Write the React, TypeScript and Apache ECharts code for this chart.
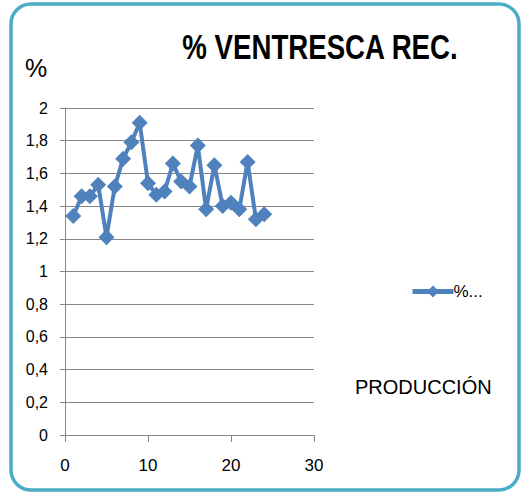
import React, { useEffect, useRef } from "react";
import * as echarts from "echarts";

// Production number (x) and % ventresca recovered (y)
const produccion = [1, 2, 3, 4, 5, 6, 7, 8, 9, 10, 11, 12, 13, 14, 15, 16, 17, 18, 19, 20, 21, 22, 23, 24];
const ventresca = [1.34, 1.46, 1.46, 1.53, 1.21, 1.52, 1.69, 1.79, 1.91, 1.54, 1.47, 1.49, 1.66, 1.55, 1.52, 1.77, 1.38, 1.65, 1.4, 1.42, 1.38, 1.67, 1.32, 1.35];

const titleText = "% VENTRESCA REC.";
const yAxisName = "%";
const xAxisName = "PRODUCCIÓN";
const legendName = "%...";

const sans = "'Liberation Sans', Arial, sans-serif";

export default function App() {
  const ref = useRef<HTMLDivElement>(null);

  useEffect(() => {
    if (!ref.current) return;
    const chart = echarts.init(ref.current, null, { renderer: "svg" });
    const points = produccion.map((x, i) => [x, ventresca[i]]);
    chart.setOption({
      animation: false,
      backgroundColor: "#ffffff",
      legend: {
        show: true,
        left: 405,
        top: 278,
        itemWidth: 41,
        itemHeight: 15,
        itemGap: 4,
        data: [{ name: legendName }],
        lineStyle: { width: 5 },
        textStyle: { fontFamily: sans, fontSize: 17, color: "#000", padding: [0, 0, 0, -5] },
      },
      grid: { left: 65, right: 207, top: 108, bottom: 60, containLabel: false },
      xAxis: {
        type: "value",
        min: 0,
        max: 30,
        interval: 10,
        axisLine: { show: true, lineStyle: { color: "#868686", width: 1 } },
        axisTick: { show: true, length: 7, lineStyle: { color: "#868686" } },
        splitLine: { show: false },
        axisLabel: { fontFamily: sans, fontSize: 17, color: "#000", margin: 22 },
      },
      yAxis: {
        type: "value",
        min: 0,
        max: 2,
        interval: 0.2,
        name: yAxisName,
        nameLocation: "end",
        nameGap: 0,
        nameTextStyle: { fontFamily: sans, fontSize: 25, color: "#000", padding: [0, 0, 28, -58] },
        axisLine: { show: true, lineStyle: { color: "#868686", width: 1 } },
        axisTick: { show: true, length: 5, lineStyle: { color: "#868686" } },
        splitLine: { show: true, lineStyle: { color: "#868686", width: 1 } },
        axisLabel: {
          fontFamily: sans,
          fontSize: 16,
          color: "#000",
          margin: 17,
          formatter: (v: number) => String(Math.round(v * 10) / 10).replace(".", ","),
        },
      },
      series: [
        {
          name: legendName,
          type: "line",
          data: points,
          symbol: "diamond",
          symbolSize: 16,
          lineStyle: { color: "#4F81BD", width: 4 },
          itemStyle: { color: "#4F81BD" },
        },
      ],
      graphic: [
        {
          type: "rect",
          shape: { x: 11, y: 4, width: 508, height: 486, r: 20 },
          style: { fill: "none", stroke: "#4BACC6", lineWidth: 3.5 },
          silent: true,
        },
        {
          // condensed bold title
          type: "text",
          x: 320,
          y: 47,
          scaleX: 0.79,
          style: {
            text: titleText,
            fontFamily: sans,
            fontWeight: "bold",
            fontSize: 35,
            fill: "#000",
            align: "center",
            verticalAlign: "middle",
          },
        },
        {
          type: "text",
          left: 355,
          top: 377,
          style: { text: xAxisName, fontFamily: sans, fontSize: 20, fill: "#000" },
        },
      ],
    });
    return () => chart.dispose();
  }, []);

  return <div ref={ref} style={{ position: "fixed", left: 0, top: 0, width: 521, height: 495 }} />;
}
